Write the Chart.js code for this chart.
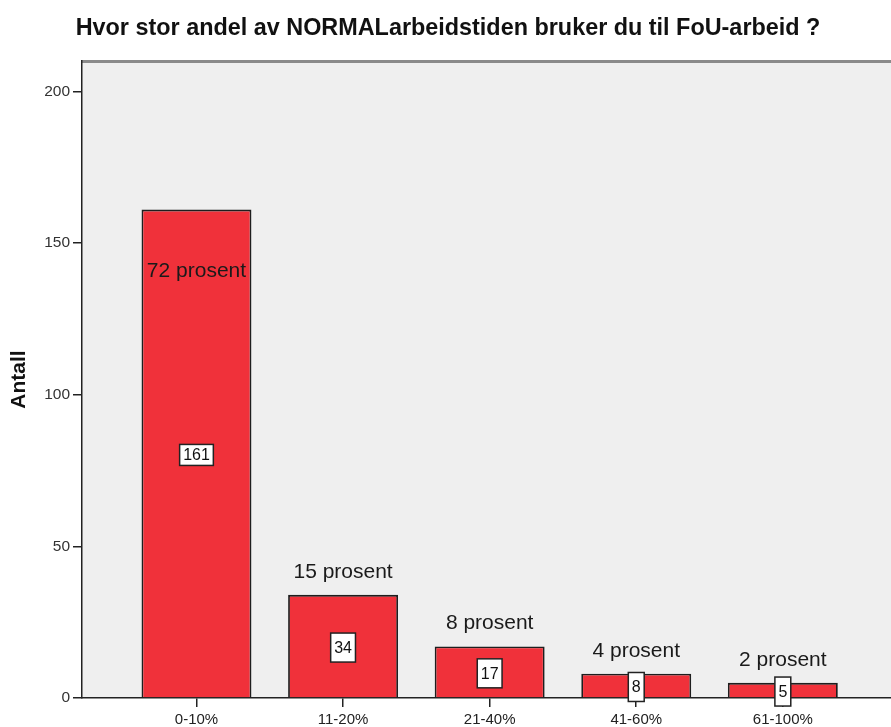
<!DOCTYPE html>
<html>
<head>
<meta charset="utf-8">
<script src="https://cdn.jsdelivr.net/npm/chart.js@4.4.0/dist/chart.umd.min.js"></script>
<style>
  body { margin: 0; background: #fff; overflow: hidden; }
  #wrap { width: 891px; height: 727px; overflow: hidden; }
</style>
</head>
<body>
<div id="wrap"><canvas id="barChart" width="896" height="727"></canvas></div>
<script>
// Data
const categories = ['0-10%', '11-20%', '21-40%', '41-60%', '61-100%'];
const counts = [161, 34, 17, 8, 5];
const percents = [72, 15, 8, 4, 2];
const yTicks = [0, 50, 100, 150, 200];

const FONT = "'Liberation Sans', Arial, sans-serif";

// plot background + grey top frame line
const plotFrame = {
    id: 'plotFrame',
    beforeDraw(chart) {
        const {ctx, chartArea: a} = chart;
        ctx.save();
        ctx.fillStyle = '#efefef';
        ctx.fillRect(a.left, a.top, a.right - a.left, a.bottom - a.top);
        ctx.strokeStyle = '#8a8a8a';
        ctx.lineWidth = 3;
        ctx.beginPath();
        ctx.moveTo(a.left, a.top + 0.5);
        ctx.lineTo(a.right, a.top + 0.5);
        ctx.stroke();
        ctx.restore();
    }
};

// percent text and boxed counts on the bars
const barLabels = {
    id: 'barLabels',
    afterDatasetsDraw(chart) {
        const {ctx} = chart;
        const meta = chart.getDatasetMeta(0);
        ctx.save();
        meta.data.forEach((bar, i) => {
            const inside = counts[i] > 100;
            // percent label
            ctx.font = '21px ' + FONT;
            ctx.fillStyle = '#1a1a1a';
            ctx.textAlign = 'center';
            ctx.textBaseline = 'middle';
            const py = inside ? bar.y + 62 : bar.y - 23;
            ctx.fillText(percents[i] + ' prosent', bar.x, py);
            // count box
            ctx.font = '16px ' + FONT;
            const txt = String(counts[i]);
            const w = ctx.measureText(txt).width + 7;
            const h = inside ? 21 : 29;
            const cy = (bar.y + bar.base) / 2 + 1.5;
            ctx.fillStyle = '#ffffff';
            ctx.fillRect(bar.x - w / 2, cy - h / 2, w, h);
            ctx.strokeStyle = '#222';
            ctx.lineWidth = 1.5;
            ctx.strokeRect(bar.x - w / 2, cy - h / 2, w, h);
            ctx.fillStyle = '#111';
            ctx.fillText(txt, bar.x, cy + 1);
        });
        ctx.restore();
    }
};

const ctx1 = document.getElementById('barChart').getContext('2d');
new Chart(ctx1, {
    type: 'bar',
    data: {
        datasets: [{
            label: 'Antall',
            data: counts.map((v, i) => ({x: i, y: v})),
            backgroundColor: '#f0313a',
            borderColor: '#1e1e1e',
            borderWidth: 1.8,
            borderSkipped: 'bottom',
            barPercentage: 0.75,
            categoryPercentage: 1.0
        }]
    },
    options: {
        responsive: false,
        animation: false,
        layout: {padding: 0},
        plugins: {
            legend: {display: false},
            tooltip: {enabled: false},
            title: {
                display: true,
                text: 'Hvor stor andel av NORMALarbeidstiden bruker du til FoU-arbeid ?',
                color: '#111',
                font: {family: FONT, size: 23.4, weight: 'bold'},
                padding: {top: 15, bottom: 17.9}
            }
        },
        scales: {
            x: {
                type: 'linear',
                offset: false,
                min: -0.781,
                max: 4.772,
                grid: {display: true, offset: false, drawOnChartArea: false, drawTicks: true, tickLength: 9, color: '#222', lineWidth: 1.5},
                border: {color: '#222', width: 1.5},
                ticks: {
                    stepSize: 1,
                    includeBounds: false,
                    autoSkip: false,
                    maxRotation: 0,
                    padding: 4,
                    color: '#222',
                    font: {family: FONT, size: 15},
                    callback: v => categories[v] ?? ''
                },
                afterFit: s => { s.height = 29; }
            },
            y: {
                min: 0,
                max: 210,
                grid: {display: true, drawOnChartArea: false, drawTicks: true, tickLength: 9, color: '#222', lineWidth: 1.5},
                border: {color: '#222', width: 1.5},
                afterBuildTicks: s => { s.ticks = yTicks.map(v => ({value: v})); },
                ticks: {
                    padding: 3,
                    color: '#333',
                    font: {family: FONT, size: 15.5}
                },
                title: {
                    display: true,
                    text: 'Antall',
                    color: '#111',
                    font: {family: FONT, size: 21, weight: 'bold'},
                    padding: {top: 7, bottom: 0}
                },
                afterFit: s => { s.width = 82; }
            }
        }
    },
    plugins: [plotFrame, barLabels]
});
</script>
</body>
</html>
